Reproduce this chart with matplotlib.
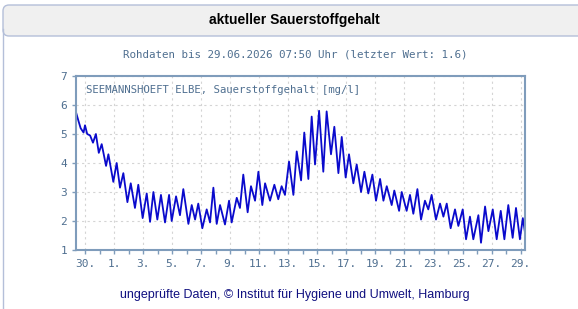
import matplotlib
matplotlib.use("Agg")
import matplotlib.pyplot as plt
from matplotlib.patches import FancyBboxPatch
from matplotlib.lines import Line2D
from matplotlib.transforms import IdentityTransform

# days since 30.05. 00:00, alternating tidal highs/lows of the oxygen reading
t_days = [-0.62, -0.45, -0.3, -0.1, 0.0, 0.15, 0.35, 0.55, 0.75, 0.95, 1.15, 1.45,
          1.61, 1.95, 2.18, 2.41, 2.64, 2.92, 3.15, 3.44, 3.67, 3.97, 4.25, 4.48,
          4.71, 4.98, 5.23, 5.51, 5.79, 5.97, 6.27, 6.54, 6.77, 7.12, 7.35, 7.58,
          7.80, 8.08, 8.38, 8.61, 8.84, 9.07, 9.30, 9.64, 9.92, 10.1, 10.45, 10.67,
          10.90, 11.2, 11.43, 11.71, 11.94, 12.21, 12.40, 12.74, 13.04, 13.31, 13.54, 13.77,
          14.05, 14.35, 14.58, 14.88, 15.10, 15.38, 15.61, 15.84, 16.12, 16.41, 16.64, 16.94,
          17.17, 17.45, 17.68, 17.95, 18.18, 18.48, 18.71, 19.01, 19.24, 19.51, 19.79, 20.04,
          20.32, 20.55, 20.78, 21.12, 21.30, 21.63, 21.81, 22.15, 22.38, 22.61, 22.89, 23.14,
          23.41, 23.64, 23.87, 24.17, 24.45, 24.68, 24.91, 25.18, 25.48, 25.71, 26.01, 26.24,
          26.51, 26.74, 27.09, 27.27, 27.55, 27.78, 28.08, 28.35, 28.63, 28.88, 29.15, 29.45,
          29.68, 29.95, 30.15, 30.30]
o2 = [5.75, 5.45, 5.2, 5.05, 5.3, 5.0, 4.95, 4.7, 5.0, 4.35, 4.65, 3.9,
      4.3, 3.35, 4.0, 3.15, 3.65, 2.65, 3.3, 2.45, 3.25, 2.1, 2.95, 1.97,
      3.0, 2.05, 2.9, 1.95, 2.9, 2.0, 2.85, 2.2, 3.1, 1.9, 2.55, 2.05,
      2.6, 1.75, 2.4, 1.95, 3.15, 1.9, 2.55, 1.88, 2.7, 1.95, 2.8, 2.45,
      3.6, 2.3, 3.2, 2.7, 3.7, 2.55, 3.3, 2.7, 3.25, 2.75, 3.2, 2.9,
      4.05, 2.9, 4.4, 3.4, 5.05, 3.45, 5.6, 3.95, 5.8, 3.7, 5.78, 4.3,
      5.25, 3.65, 4.9, 3.5, 4.3, 3.3, 3.95, 3.0, 3.7, 2.95, 3.6, 2.7,
      3.45, 2.7, 3.2, 2.55, 3.05, 2.35, 3.0, 2.35, 2.9, 2.25, 3.1, 2.05,
      2.7, 2.4, 2.9, 2.05, 2.6, 2.15, 2.6, 1.75, 2.4, 1.83, 2.4, 1.37,
      2.15, 1.37, 2.2, 1.25, 2.5, 1.65, 2.4, 1.37, 2.35, 1.37, 2.55, 1.42,
      2.45, 1.37, 2.1, 1.6]

tick_days = list(range(0, 31, 2))
tick_labels = ["30.", "1.", "3.", "5.", "7.", "9.", "11.", "13.", "15.",
               "17.", "19.", "21.", "23.", "25.", "27.", "29."]

axcol = "#7f9cbb"
txtcol = "#4f6f90"
mono = "DejaVu Sans Mono"
cx = 0.51

fig = plt.figure(figsize=(5.78, 3.09), dpi=100)

# panel frame and header band (pixel coords)
fig.add_artist(FancyBboxPatch((3, 273), 600, 31, boxstyle="round,pad=0,rounding_size=6",
                              transform=IdentityTransform(), facecolor="#f0f0f0",
                              edgecolor="#b4bfd9", linewidth=1))
fig.add_artist(Line2D([3, 3], [0, 280], transform=IdentityTransform(), color="#b4bfd9", lw=1))

fig.text(cx, 0.935, "aktueller Sauerstoffgehalt", ha="center", va="center",
         fontsize=10, fontweight="bold", family="Liberation Sans", color="black")
fig.text(cx, 0.825, "Rohdaten bis 29.06.2026 07:50 Uhr (letzter Wert: 1.6)", ha="center",
         va="center", fontsize=7.8, family=mono, color=txtcol)
fig.text(cx, 0.045, "ungeprüfte Daten, © Institut für Hygiene und Umwelt, Hamburg",
         ha="center", va="center", fontsize=9, family="Liberation Sans", color="#101080")

ax = fig.add_axes([76 / 578, 1 - 250 / 309, (525 - 76) / 578, (250 - 76) / 309])
ax.plot(t_days, o2, color="#0a0acc", lw=1.3)

ax.set_xlim(-0.62, 30.30)
ax.set_ylim(1, 7)
ax.set_xticks(tick_days)
ax.set_xticklabels(tick_labels)
ax.set_xticks(range(0, 31), minor=True)
ax.set_yticks(range(1, 8))
ax.grid(True, color="#d4d4d4", linestyle=(0, (2, 3)), linewidth=0.8)

for s in ax.spines.values():
    s.set_color(axcol)
    s.set_linewidth(1.5)
ax.tick_params(which="both", colors=axcol, length=3, width=1, labelcolor=txtcol,
               labelsize=8)
for lab in ax.get_xticklabels() + ax.get_yticklabels():
    lab.set_family(mono)

ax.text(0.022, 0.95, "SEEMANNSHOEFT ELBE, Sauerstoffgehalt [mg/l]", transform=ax.transAxes,
        ha="left", va="top", fontsize=7.7, family=mono, color=txtcol)

fig.savefig("out.png", dpi=100)
